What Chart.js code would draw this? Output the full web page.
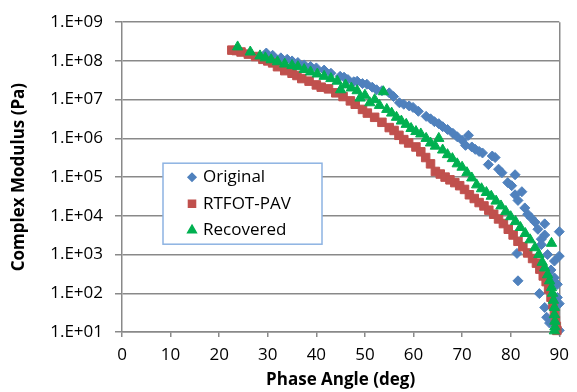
<!DOCTYPE html>
<html>
<head>
<meta charset="utf-8">
<script src="https://cdn.jsdelivr.net/npm/chart.js@4/dist/chart.umd.min.js"></script>
<style>
  body { margin: 0; background: #fff; }
</style>
</head>
<body>
<canvas class="chart" width="577" height="392"></canvas>
<script>
const originalAngle = [29.7, 31, 32.7, 34, 35, 36.2, 37.5, 38.8, 40, 41.6, 43, 44.9, 45.7, 46.5, 47.7, 48.4, 49.5, 50.4, 51.5, 52.4,
  53.5, 55, 55.9, 57.1, 58, 59.1, 59.9, 61, 62.6, 63.5, 64.3, 65.2, 66, 67, 68.1, 69, 70, 70.7, 71.3, 72,
  72.7, 73.5, 74.2, 75.4, 76.2, 76.8, 77.5, 78.2, 79.4, 80.2, 80.9, 80.9, 81.5, 82.3, 82.9, 83.5, 84.2, 85, 85.6, 86.3,
  87, 87, 86.3, 81.3, 90, 90, 89, 81.5, 85.9, 89.6, 89.6, 87, 90, 87.4, 88, 90, 87.6, 88.3, 89];
const originalModulus = [1.6e8, 1.4e8, 1.2e8, 1.1e8, 1.0e8, 9.1e7, 7.9e7, 7.2e7, 6.6e7, 5.8e7, 4.8e7, 4.0e7, 3.8e7, 3.3e7, 2.9e7, 3.0e7, 2.6e7, 2.5e7, 2.1e7, 1.8e7,
  1.7e7, 1.5e7, 1.2e7, 8.3e6, 7.6e6, 6.9e6, 6.3e6, 5.0e6, 3.7e6, 3.2e6, 2.7e6, 2.4e6, 2.0e6, 1.7e6, 1.35e6, 1.1e6, 8.9e5, 6.6e5, 1.2e6, 6.0e5,
  5.2e5, 4.6e5, 4.2e5, 2.1e5, 3.5e5, 3.2e5, 1.6e5, 1.3e5, 7.2e4, 6.0e4, 1.15e5, 3.5e4, 2.5e4, 4.2e4, 1.6e4, 1.1e4, 8.9e3, 6.9e3, 4.5e3, 2.5e3,
  6.2e3, 3.2e3, 1.8e3, 1.07e3, 3.9e3, 910, 680, 210, 98, 170, 78, 43, 54, 24, 17, 11, 1.0e3, 400, 250];

const rtfotAngle = [22.6, 23.5, 24.5, 26, 27.5, 29, 30, 31, 32, 33.5, 35, 36, 37, 38.5, 40, 41, 42.5, 44, 45.5, 47,
  48, 49.5, 50.5, 52, 53.5, 55, 56, 57, 58, 59, 60.5, 61.5, 62.5, 63.5, 64.5, 65.5, 66.5, 67.5, 68.5, 69.5,
  70.5, 71.5, 72.5, 73.5, 74.5, 75.5, 76.5, 77.5, 78.5, 79.5, 80.5, 81.5, 82.5, 83.5, 84.5, 85.3, 86, 86.7, 87.3, 87.8,
  88.3, 88.7, 89, 89.2, 89.4, 89.5];
const rtfotModulus = [1.9e8, 1.85e8, 1.7e8, 1.5e8, 1.3e8, 1.1e8, 1.0e8, 8.9e7, 7.1e7, 5.6e7, 4.8e7, 4.2e7, 3.5e7, 3.0e7, 2.4e7, 2.1e7, 1.9e7, 1.5e7, 1.2e7, 9.3e6,
  7.6e6, 5.6e6, 4.5e6, 3.5e6, 2.6e6, 1.9e6, 1.6e6, 1.2e6, 9.3e5, 7.6e5, 6.0e5, 4.5e5, 3.2e5, 2.2e5, 1.4e5, 1.2e5, 1.0e5, 8.5e4, 7.2e4, 6.0e4,
  4.8e4, 3.5e4, 2.8e4, 2.2e4, 1.8e4, 1.4e4, 1.1e4, 8.3e3, 6.3e3, 4.5e3, 3.2e3, 2.2e3, 1.6e3, 1.1e3, 790, 600, 420, 280, 200, 130,
  79, 50, 32, 20, 14, 11];

const recoveredAngle = [23.8, 26.4, 28.4, 29.5, 30.7, 32, 33.5, 35, 36.2, 37.5, 38.8, 40.2, 41.6, 43, 44.3, 45, 46, 47.2, 48.4, 49,
  50, 51, 52, 53, 53.8, 54.5, 55.5, 56.5, 57.5, 58.5, 59.5, 60.5, 61.5, 62.6, 63.5, 64.5, 65.2, 66, 67, 68,
  69, 70, 71, 72, 73, 74, 75, 76, 77, 78, 79, 80, 81, 82, 83, 84, 85, 85.8, 86.5, 87,
  87.6, 88, 88.4, 88.6, 88.8, 89, 89, 89.1, 89.1, 89, 88.4];
const recoveredModulus = [2.3e8, 1.7e8, 1.35e8, 1.2e8, 1.07e8, 9.5e7, 8.3e7, 7.6e7, 7.1e7, 6.0e7, 5.2e7, 4.6e7, 4.0e7, 3.5e7, 3.0e7, 1.8e7, 2.4e7, 2.0e7, 1.7e7, 1.1e7,
  1.3e7, 8.3e6, 1.0e7, 7.1e6, 1.6e7, 5.6e6, 4.5e6, 3.5e6, 2.8e6, 2.3e6, 1.8e6, 1.5e6, 1.3e6, 1.0e6, 7.6e5, 6.3e5, 1.0e6, 5.0e5, 3.8e5, 3.0e5,
  2.2e5, 1.8e5, 1.3e5, 9.5e4, 6.3e4, 5.0e4, 4.0e4, 3.2e4, 2.4e4, 1.8e4, 1.3e4, 9.5e3, 7.1e3, 5.0e3, 3.5e3, 2.4e3, 1.5e3, 1.0e3, 630, 450,
  300, 210, 140, 100, 66, 43, 28, 19, 13.5, 10.7, 1.95e3];

const yTicks = [1e1, 1e2, 1e3, 1e4, 1e5, 1e6, 1e7, 1e8, 1e9];
const xTickStep = 10;

const toPoints = (xs, ys) => xs.map((x, i) => ({x: x, y: ys[i]}));

const data = {
  datasets: [{
    label: 'Original',
    data: toPoints(originalAngle, originalModulus),
    pointStyle: 'rectRot',
    pointRadius: 5,
    backgroundColor: '#4F81BD',
    borderColor: '#4F81BD',
    borderWidth: 1,
    clip: false,
    order: 2
  }, {
    label: 'RTFOT-PAV',
    data: toPoints(rtfotAngle, rtfotModulus),
    pointStyle: 'rect',
    pointRadius: 6,
    backgroundColor: '#C0504D',
    borderColor: '#C0504D',
    borderWidth: 1,
    clip: false,
    order: 1
  }, {
    label: 'Recovered',
    data: toPoints(recoveredAngle, recoveredModulus),
    pointStyle: 'triangle',
    pointRadius: 6,
    backgroundColor: '#00B050',
    borderColor: '#00B050',
    borderWidth: 1,
    clip: false,
    order: 0
  }]
};

const gridGray = '#898989';
const tickFont = {family: 'Open Sans', size: 17};
const titleFont = {family: 'Open Sans', size: 17, weight: 'bold'};

// legend box sits inside the plot, like the excel one
const legendBox = {
  id: 'legendBox',
  afterDatasetsDraw(chart) {
    const {ctx, chartArea: {left, top}} = chart;
    const bx = left + 41, by = top + 141, bw = 159, bh = 81;
    ctx.save();
    ctx.fillStyle = '#fff';
    ctx.fillRect(bx, by, bw, bh);
    ctx.strokeStyle = '#8DB3E2';
    ctx.lineWidth = 1.5;
    ctx.strokeRect(bx, by, bw, bh);

    const sizes = [4, 5, 5];
    ctx.font = '17px "Open Sans"';
    ctx.textBaseline = 'middle';
    data.datasets.forEach((ds, i) => {
      const rowY = by + 14 + i * 26.5;
      ctx.fillStyle = ds.backgroundColor;
      ctx.strokeStyle = ds.borderColor;
      Chart.helpers.drawPoint(ctx, {pointStyle: ds.pointStyle, radius: sizes[i], borderWidth: 1}, bx + 29, rowY);
      ctx.fillStyle = '#000';
      ctx.fillText(ds.label, bx + 40, rowY);
    });
    ctx.restore();
  }
};

// config 
const config = {
  type: 'scatter',
  data,
  options: {
    responsive: false,
    animation: false,
    layout: {
      padding: {top: 17, right: 12, left: 0, bottom: 0}
    },
    plugins: {
      legend: {display: false},
      tooltip: {enabled: false}
    },
    scales: {
      x: {
        type: 'linear',
        min: 0,
        max: 90,
        afterFit(scale) { scale.height = 60; },
        ticks: {
          stepSize: xTickStep,
          color: '#000',
          font: tickFont,
          padding: 8
        },
        grid: {
          color: c => (c.tick && c.tick.value === 90) ? gridGray : 'rgba(0,0,0,0)',
          tickColor: gridGray,
          tickLength: 5,
          lineWidth: 1.5
        },
        border: {color: gridGray, width: 1.5},
        title: {
          display: true,
          text: 'Phase Angle (deg)',
          color: '#000',
          font: titleFont,
          padding: {top: 0, bottom: 2}
        }
      },
      y: {
        type: 'logarithmic',
        min: 10,
        max: 1e9,
        afterFit(scale) { scale.width = 122; },
        afterBuildTicks(scale) {
          scale.ticks = yTicks.map(v => ({value: v}));
        },
        ticks: {
          autoSkip: false,
          color: '#000',
          font: tickFont,
          padding: 12,
          callback: v => '1.E+' + String(Math.round(Math.log10(v))).padStart(2, '0')
        },
        grid: {
          color: gridGray,
          tickColor: gridGray,
          tickLength: 7,
          lineWidth: 1.5
        },
        border: {color: gridGray, width: 1.5},
        title: {
          display: true,
          text: 'Complex Modulus (Pa)',
          color: '#000',
          font: titleFont,
          padding: {top: 9, bottom: 0}
        }
      }
    }
  },
  plugins: [legendBox]
};

// render init block
const myChart = new Chart(
  document.querySelector('.chart'),
  config
);
</script>
</body>
</html>
